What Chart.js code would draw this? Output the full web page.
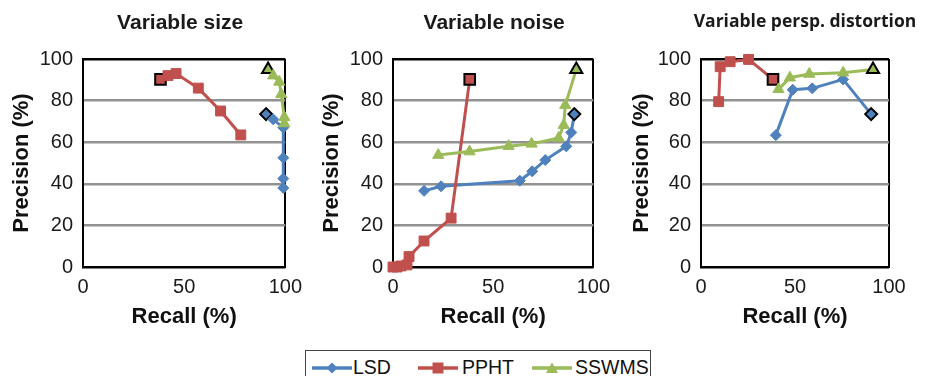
<!DOCTYPE html>
<html>
<head>
<meta charset="utf-8">
<script src="https://cdn.jsdelivr.net/npm/chart.js@4.4.0/dist/chart.umd.min.js"></script>
<style>
html, body { margin: 0; padding: 0; background: #fff; }
body { width: 932px; height: 376px; overflow: hidden; position: relative; font-family: "Liberation Sans", Arial, sans-serif; }
canvas.panel { position: absolute; top: 0; }
#legend { position: absolute; left: 305px; top: 350px; width: 346px; height: 40px; border: 1.5px solid #444; box-sizing: border-box; }
#legend span { position: absolute; top: 5px; font-size: 19.5px; color: #111; line-height: 22px; }
#legend canvas { position: absolute; top: 9px; }
</style>
</head>
<body>
<canvas id="c1" class="panel" width="310" height="340" style="left:0px"></canvas>
<canvas id="c2" class="panel" width="308" height="340" style="left:310px"></canvas>
<canvas id="c3" class="panel" width="312" height="340" style="left:620px"></canvas>
<div id="legend">
  <canvas id="swLsd" width="40" height="16" style="left:6px"></canvas><span style="left:47px">LSD</span>
  <canvas id="swPpht" width="40" height="16" style="left:112px"></canvas><span style="left:156px">PPHT</span>
  <canvas id="swSswms" width="40" height="16" style="left:226px"></canvas><span style="left:269px">SSWMS</span>
</div>
<script>
// recall / precision (%), first point of each series is the default setting (black outline)
var sizeLsdRecall = [90.5, 94, 99, 99, 99, 99];
var sizeLsdPrecision = [73.5, 71, 67, 52.5, 42.5, 38];
var sizePphtRecall = [38.3, 42, 46, 57, 68, 78];
var sizePphtPrecision = [90.2, 92, 93, 86, 75, 63.5];
var sizeSswmsRecall = [91.5, 94, 97, 98, 99.5, 99.5];
var sizeSswmsPrecision = [95, 92, 89, 83, 72, 69];

var noiseLsdRecall = [90.5, 89, 86.5, 76, 69.5, 63.3, 24, 15.5];
var noiseLsdPrecision = [73.5, 64.7, 58, 51.4, 46, 41.5, 38.8, 36.6];
var noisePphtRecall = [38.3, 29, 15.5, 8, 7, 4, 2, 0];
var noisePphtPrecision = [90.2, 23.5, 12.5, 5, 1, 0.5, 0, 0];
var noiseSswmsRecall = [91.5, 86, 85.2, 82.7, 69.2, 57.7, 38.2, 22.6];
var noiseSswmsPrecision = [95, 77.8, 68.2, 62, 59.2, 58.1, 55.5, 53.8];

var perspLsdRecall = [90.5, 75.6, 59.2, 48.8, 39.8];
var perspLsdPrecision = [73.5, 90.2, 85.9, 85.2, 63.4];
var perspPphtRecall = [38.3, 25.3, 15.5, 10.2, 9.4];
var perspPphtPrecision = [90.2, 99.8, 98.7, 96.3, 79.5];
var perspSswmsRecall = [91.5, 75.6, 57.6, 47.3, 41.2];
var perspSswmsPrecision = [95, 93.4, 92.8, 91, 85.4];

var recallTicks = [0, 50, 100];
var precisionTicks = [0, 20, 40, 60, 80, 100];

var BLUE = '#4f81bd', RED = '#c0504d', GREEN = '#9bbb59';

var panelTitle = {
    id: 'panelTitle',
    afterDraw: function(chart, args, opts) {
        var ctx = chart.ctx, a = chart.chartArea
        ctx.save()
        ctx.font = opts.font
        ctx.fillStyle = '#1a1a1a'
        ctx.textAlign = 'center'
        ctx.textBaseline = 'middle'
        ctx.fillText(opts.text, (a.left + a.right) / 2 + opts.shift, opts.y)
        ctx.restore()
    }
}

function series(label, color, style, radius, xs, ys, order) {
    var pts = xs.map(function(x, i) { return {x: x, y: ys[i]} })
    return {
        label: label,
        data: pts,
        showLine: true,
        borderColor: color,
        backgroundColor: color,
        borderWidth: 3,
        tension: 0,
        pointStyle: style,
        pointRadius: pts.map(function(p, i) { return i === 0 ? radius + 0.5 : radius }),
        pointBackgroundColor: color,
        pointBorderColor: pts.map(function(p, i) { return i === 0 ? '#000' : color }),
        pointBorderWidth: pts.map(function(p, i) { return i === 0 ? 2 : 1 }),
        clip: false,
        order: order
    }
}

function edgeColor(ticks, other) {
    return function(c) {
        if (!c.tick) return other
        var v = c.tick.value
        return (v === ticks[0] || v === ticks[ticks.length - 1]) ? '#000' : other
    }
}

function makePanel(id, title, titleFont, titleShift, titleY, yWidth, padRight, sets) {
    return new Chart(document.getElementById(id), {
        type: 'scatter',
        data: {
            datasets: [
                series('LSD', BLUE, 'rectRot', 5.5, sets[0], sets[1], 3),
                series('PPHT', RED, 'rect', 7, sets[2], sets[3], 2),
                series('SSWMS', GREEN, 'triangle', 6.5, sets[4], sets[5], 1)
            ]
        },
        options: {
            responsive: false,
            animation: false,
            layout: { padding: { top: 59, right: padRight, bottom: 0, left: 0 } },
            plugins: {
                legend: { display: false },
                tooltip: { enabled: false },
                panelTitle: { text: title, font: titleFont, shift: titleShift, y: titleY }
            },
            scales: {
                x: {
                    type: 'linear',
                    min: recallTicks[0],
                    max: recallTicks[recallTicks.length - 1],
                    afterBuildTicks: function(s) { s.ticks = recallTicks.map(function(v) { return {value: v} }) },
                    afterFit: function(s) { s.height = 73 },
                    grid: { color: edgeColor(recallTicks, 'rgba(0,0,0,0)'), lineWidth: 2, drawTicks: false },
                    border: { display: true, color: '#000', width: 2 },
                    ticks: { padding: 8, color: '#1a1a1a', font: { family: 'Liberation Sans', size: 20 } },
                    title: {
                        display: true, text: 'Recall (%)', color: '#111',
                        font: { family: 'Liberation Sans', size: 22, weight: 'bold' },
                        padding: { top: 0, bottom: 10 }
                    }
                },
                y: {
                    min: precisionTicks[0],
                    max: precisionTicks[precisionTicks.length - 1],
                    afterBuildTicks: function(s) { s.ticks = precisionTicks.map(function(v) { return {value: v} }) },
                    afterFit: function(s) { s.width = yWidth },
                    grid: { color: edgeColor(precisionTicks, '#929292'), lineWidth: 2.5, drawTicks: false },
                    border: { display: true, color: '#000', width: 2 },
                    ticks: { padding: 10, color: '#1a1a1a', font: { family: 'Liberation Sans', size: 20 } },
                    title: {
                        display: true, text: 'Precision (%)', color: '#111',
                        font: { family: 'Liberation Sans', size: 22, weight: 'bold' },
                        padding: { top: 9, bottom: 0 }
                    }
                }
            }
        },
        plugins: [panelTitle]
    })
}

makePanel('c1', 'Variable size', 'bold 21px "Liberation Sans"', -4, 23, 83, 23,
    [sizeLsdRecall, sizeLsdPrecision, sizePphtRecall, sizePphtPrecision, sizeSswmsRecall, sizeSswmsPrecision])
makePanel('c2', 'Variable noise', 'bold 21px "Liberation Sans"', 1, 23, 83, 23,
    [noiseLsdRecall, noiseLsdPrecision, noisePphtRecall, noisePphtPrecision, noiseSswmsRecall, noiseSswmsPrecision])
makePanel('c3', 'Variable persp. distortion', 'bold 17.5px "Open Sans"', 10, 22, 81, 43,
    [perspLsdRecall, perspLsdPrecision, perspPphtRecall, perspPphtPrecision, perspSswmsRecall, perspSswmsPrecision])

// legend swatches: line with marker
function swatch(id, color, style) {
    var ctx = document.getElementById(id).getContext('2d')
    ctx.strokeStyle = color
    ctx.fillStyle = color
    ctx.lineWidth = 3.5
    ctx.beginPath(); ctx.moveTo(0, 8); ctx.lineTo(40, 8); ctx.stroke()
    ctx.beginPath()
    if (style === 'diamond') {
        ctx.moveTo(20, 2.5); ctx.lineTo(25.5, 8); ctx.lineTo(20, 13.5); ctx.lineTo(14.5, 8)
    } else if (style === 'square') {
        ctx.rect(14.5, 2.5, 11, 11)
    } else {
        ctx.moveTo(20, 2.5); ctx.lineTo(26, 13); ctx.lineTo(14, 13)
    }
    ctx.closePath(); ctx.fill()
}
swatch('swLsd', BLUE, 'diamond')
swatch('swPpht', RED, 'square')
swatch('swSswms', GREEN, 'triangle')
</script>
</body>
</html>
